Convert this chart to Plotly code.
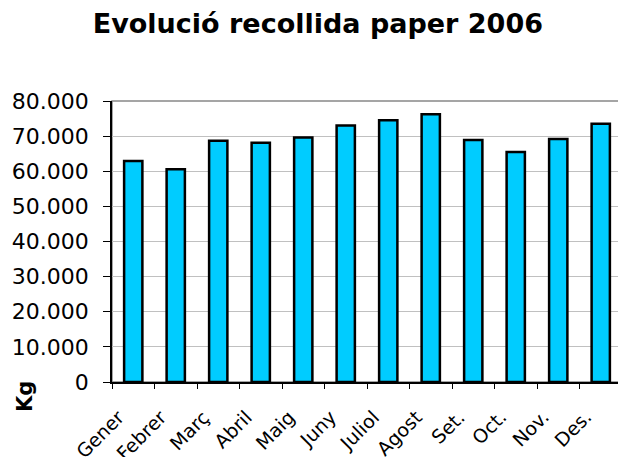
import plotly.graph_objects as go

months = ["Gener", "Febrer", "Març", "Abril", "Maig", "Juny", "Juliol",
          "Agost", "Set.", "Oct.", "Nov.", "Des."]
kg = [62900, 60600, 68700, 68100, 69600, 73000, 74500, 76200, 68900, 65500, 69200, 73500]
y_ticks = [0, 10000, 20000, 30000, 40000, 50000, 60000, 70000, 80000]

fig = go.Figure()
fig.add_trace(go.Bar(
    x=months, y=kg,
    marker=dict(color="#00CCFF", line=dict(color="#000000", width=2.5)),
))

font = "DejaVu Sans, Liberation Sans, Arial, sans-serif"
fig.update_layout(
    width=626, height=457,
    margin=dict(l=104, r=12, t=93, b=83),
    paper_bgcolor="white", plot_bgcolor="white",
    separators=",.",
    bargap=0.57,
    showlegend=False,
    title=dict(text="<b>Evolució recollida paper 2006</b>", x=0.495, xref="container",
               xanchor="center", y=0.967, yanchor="middle",
               font=dict(family=font, size=27, color="black")),
    font=dict(family=font, color="black"),
)
fig.update_xaxes(
    type="category", categoryorder="array", categoryarray=months,
    range=[-0.5, len(months) - 0.5],
    showline=True, linecolor="black", linewidth=1.5,
    ticks="outside", ticklen=5, tickcolor="black", tickson="boundaries",
    showticklabels=False, showgrid=False, automargin=False,
)
fig.update_yaxes(
    range=[0, 80000], tickvals=y_ticks, tickformat=",",
    showline=True, linecolor="black", linewidth=1.5,
    ticks="outside", ticklen=7, tickcolor="black", ticklabelstandoff=10,
    tickfont=dict(size=22), showgrid=True, gridcolor="#c0c0c0", gridwidth=1,
    zeroline=False, automargin=False,
)
fig.add_shape(type="rect", xref="paper", yref="paper", x0=0, x1=1, y0=0, y1=1,
              line=dict(color="#888888", width=1.5), layer="below")
for i, m in enumerate(months):
    fig.add_annotation(text=m, x=i, xref="x", y=0, yref="paper",
                       xanchor="right", yanchor="top", xshift=-2, yshift=-21,
                       textangle=-45, showarrow=False,
                       font=dict(size=19, family=font, color="black"))
fig.add_annotation(text="<b>Kg</b>", xref="paper", yref="paper",
                   x=-0.1706, y=-0.05, xanchor="center", yanchor="middle",
                   textangle=-90, showarrow=False,
                   font=dict(size=21, family=font, color="black"))
fig.write_html("out.html")
